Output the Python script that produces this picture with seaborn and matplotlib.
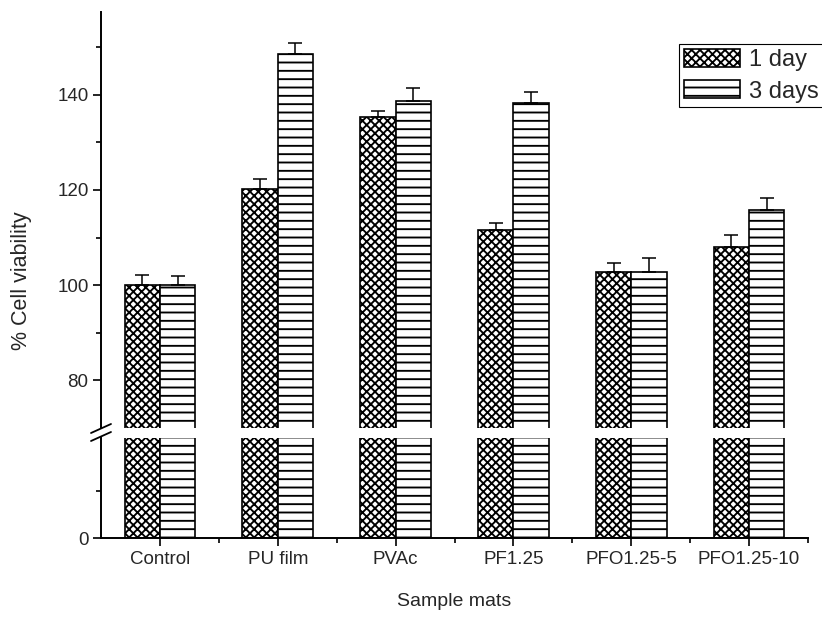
import numpy as np
import pandas as pd
import seaborn as sns
import matplotlib.pyplot as plt
from matplotlib.patches import Patch
from matplotlib.lines import Line2D
from matplotlib.ticker import FixedLocator

# values (% viability, mean and upper error)
samples = ['Control', 'PU film', 'PVAc', 'PF1.25', 'PFO1.25-5', 'PFO1.25-10']
days = ['1 day', '3 days']
viab_1d = [100.0, 120.3, 135.3, 111.5, 102.8, 108.0]
viab_3d = [100.0, 148.5, 138.8, 138.3, 102.8, 115.7]
err_1d = [2.2, 2.0, 1.3, 1.6, 1.8, 2.6]
err_3d = [2.0, 2.5, 2.7, 2.4, 2.9, 2.6]

df = pd.DataFrame({
    'Sample': samples * 2,
    'Time': [days[0]] * len(samples) + [days[1]] * len(samples),
    'Viability': viab_1d + viab_3d,
})

sns.set_theme(style='ticks')
plt.rcParams['font.family'] = ['Liberation Sans', 'DejaVu Sans']
plt.rcParams['hatch.linewidth'] = 1.35

W, H = 822, 623
fig = plt.figure(figsize=(W / 100, H / 100), dpi=100)
# broken y axis: upper part 70-157.5, lower part 0-21
ax_top = fig.add_axes([101 / W, 1 - 427.7 / H, 707 / W, (427.7 - 11.7) / H])
ax_bot = fig.add_axes([101 / W, 1 - 538.3 / H, 707 / W, (538.3 - 437.7) / H])

hatches = ['xxxx', '--']
for ax in (ax_top, ax_bot):
    sns.barplot(data=df, x='Sample', y='Viability', hue='Time', order=samples,
                hue_order=days, width=0.6, errorbar=None, legend=False,
                saturation=1, ax=ax)
    for cont, h in zip(ax.containers, hatches):
        for bar in cont:
            bar.set_facecolor('white')
            bar.set_edgecolor('black')
            bar.set_hatch(h)
            bar.set_linewidth(1.2)
    ax.set_xlim(-0.5, 5.5)
    ax.set_xlabel('')
    ax.set_ylabel('')
    ax.spines['top'].set_visible(False)
    ax.spines['right'].set_visible(False)
    for s in ('left', 'bottom'):
        ax.spines[s].set_linewidth(1.4)
        ax.spines[s].set_color('black')
    ax.tick_params(which='major', direction='out', length=6, width=1.2, labelsize=13.5, pad=3, color='black')
    ax.tick_params(which='minor', direction='out', length=3.5, width=1.2, color='black')

# error bars (upper only)
bars = list(ax_top.containers[:2])
for cont, err in zip(bars, [err_1d, err_3d]):
    xs = [b.get_x() + b.get_width() / 2 for b in cont]
    ys = [b.get_height() for b in cont]
    ax_top.errorbar(xs, ys, yerr=[np.zeros(len(err)), err], fmt='none',
                    ecolor='black', elinewidth=1.1, capsize=5, capthick=1.1)

ax_top.set_ylim(70, 157.5)
ax_top.set_yticks([80, 100, 120, 140])
ax_top.yaxis.set_minor_locator(FixedLocator([90, 110, 130, 150]))
ax_top.spines['bottom'].set_visible(False)
ax_top.tick_params(axis='x', which='both', bottom=False, labelbottom=False)

ax_bot.set_ylim(0, 21.1)
ax_bot.set_yticks([0])
ax_bot.yaxis.set_minor_locator(FixedLocator([10]))
ax_bot.xaxis.set_minor_locator(FixedLocator([0.5, 1.5, 2.5, 3.5, 4.5, 5.5]))
ax_bot.set_xlabel('Sample mats', fontsize=14, labelpad=18)

fig.text(22 / W, 1 - 281 / H, '% Cell viability', rotation=90, fontsize=15.5,
         ha='center', va='center')

# break marks on the y axis
for y0 in (433, 441):
    fig.add_artist(Line2D([91 / W, 111 / W], [1 - y0 / H, 1 - (y0 - 9) / H],
                          color='black', lw=1.3, transform=fig.transFigure))

handles = [Patch(facecolor='white', edgecolor='black', hatch=h, linewidth=1.2, label=d)
           for h, d in zip(hatches, days)]
leg = fig.legend(handles=handles, loc='upper left', bbox_to_anchor=(679 / W, 1 - 44 / H),
                 bbox_transform=fig.transFigure, fontsize=17, frameon=True,
                 fancybox=False, edgecolor='black', framealpha=1, borderpad=0.2,
                 handlelength=2.4, handleheight=0.8, handletextpad=0.35,
                 labelspacing=0.4, borderaxespad=0)
leg.get_frame().set_linewidth(0.8)

fig.savefig('out.png', dpi=100)
